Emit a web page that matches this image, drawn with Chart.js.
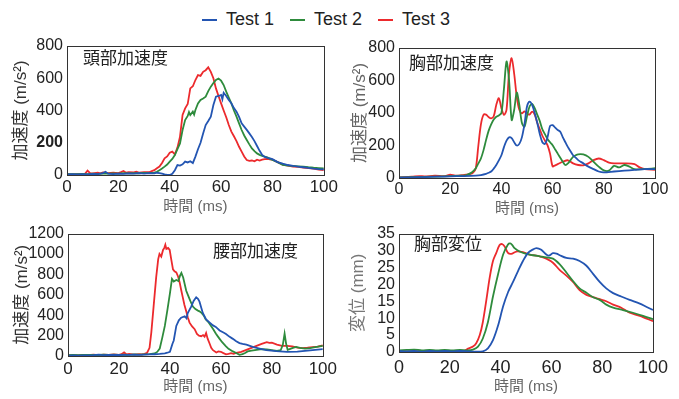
<!DOCTYPE html>
<html>
<head>
<meta charset="utf-8">
<script src="https://cdn.jsdelivr.net/npm/chart.js@4.4.1/dist/chart.umd.min.js"></script>
<style>
  body { margin: 0; background: #fff; width: 679px; height: 399px; overflow: hidden; position: relative;
         font-family: "Liberation Sans", Arial, sans-serif; }
  canvas { position: absolute; }
  #legend { position: absolute; top: 9px; left: 202px; display: flex; align-items: center; font-size: 18px; color: #222; }
  .item { display: flex; align-items: center; margin-right: 16px; }
  .sw { width: 15px; height: 2px; margin-right: 9px; display: inline-block; }
</style>
</head>
<body>
<div id="legend"></div>
<canvas id="c1" width="340" height="190" style="left:0;top:30px"></canvas>
<canvas id="c2" width="334" height="190" style="left:345px;top:30px"></canvas>
<canvas id="c3" width="340" height="179" style="left:0;top:220px"></canvas>
<canvas id="c4" width="334" height="179" style="left:345px;top:220px"></canvas>
<script>
// --- DONNEES ---
const seriesNames = ['Test 1', 'Test 2', 'Test 3'];
const seriesColors = ['#2355b2', '#2e8b3c', '#ec2a2d'];
const xTicks = [0, 20, 40, 60, 80, 100];

// 頭部加速度 (m/s2) : [temps ms, valeur]
const head1 = [[0,3],[2,5],[4,3],[6,6],[8,4],[10,7],[12,5],[14,12],[15,20],[16,8],[18,6],[20,9],[22,7],[24,10],[26,8],[28,11],[30,9],[32,12],[34,10],[35,14],[36,12],[37,8],[38,4],[39,1],[40,0],[41,8],[42,30],[43,62],[44,58],[45,66],[46,83],[47,78],[48,85],[49,74],[50,114],[51,160],[52,200],[53,258],[54,310],[55,335],[56,362],[57,434],[58,486],[59,490],[60,496],[60.5,470],[61,510],[62,490],[63,465],[64,445],[65,415],[66,393],[67,360],[68,320],[69,300],[70,280],[71,258],[72,235],[73,210],[74,180],[75,150],[76,124],[77,112],[78,106],[79,103],[80,98],[82,80],[84,70],[86,62],[88,56],[90,52],[92,48],[94,44],[96,40],[98,37],[100,35]];
const head2 = [[0,5],[2,6],[4,5],[6,7],[8,6],[10,8],[12,7],[14,9],[16,8],[18,10],[20,9],[22,11],[24,10],[26,12],[28,11],[30,13],[32,12],[34,15],[35,20],[36,30],[37,40],[38,52],[39,65],[40,83],[41,100],[42,124],[43,160],[44,196],[45,279],[46,341],[47,366],[47.5,390],[48,372],[49,393],[49.5,375],[50,403],[51,444],[52,465],[53,475],[54,486],[55,520],[56,548],[57,570],[58,589],[59,598],[60,585],[61,558],[62,517],[63,480],[64,444],[65,400],[66,362],[67,320],[68,279],[69,245],[70,217],[71,190],[72,165],[73,148],[74,134],[75,125],[76,118],[77,114],[78,110],[79,100],[80,93],[82,80],[84,62],[86,58],[88,56],[90,54],[92,52],[94,48],[96,45],[98,43],[100,41]];
const head3 = [[0,5],[2,4],[4,6],[6,5],[7,8],[8,27],[9,12],[10,10],[12,14],[13,10],[14,16],[16,12],[18,14],[20,12],[21,18],[22,25],[23,14],[24,18],[26,16],[27,20],[28,15],[30,18],[32,17],[33,24],[34,30],[35,42],[36,52],[37,75],[38,103],[39,115],[40,138],[41,145],[42,128],[43,170],[44,238],[45,372],[46,413],[47,440],[48,537],[49,550],[50,589],[51,620],[52,615],[53,640],[54,650],[55,668],[56,640],[57,600],[58,537],[59,490],[60,444],[61,400],[62,358],[63,310],[64,269],[65,240],[66,210],[67,175],[68,145],[69,115],[70,93],[71,88],[72,90],[73,85],[74,95],[75,90],[76,95],[77,98],[78,100],[79,97],[80,95],[82,80],[84,65],[86,58],[88,52],[90,50],[92,46],[94,42],[96,40],[98,34],[100,30]];

// 胸部加速度 (m/s2)
const chest1 = [[0,2],[5,4],[10,6],[15,8],[20,10],[25,12],[30,15],[32,18],[34,25],[35,32],[36,40],[37,58],[38,80],[39,108],[40,140],[41,190],[42,230],[43,250],[44,245],[45,220],[46,200],[47,210],[48,250],[49,330],[50,440],[51,470],[52,450],[53,400],[54,340],[55,270],[56,220],[57,210],[58,250],[59,320],[60,325],[61,310],[62,295],[63,285],[64,250],[65,220],[66,190],[67,165],[68,140],[69,125],[70,110],[72,90],[74,70],[76,55],[78,40],[80,35],[84,40],[88,45],[92,50],[96,55],[100,55]];
const chest2 = [[0,3],[5,5],[10,7],[15,9],[20,12],[24,14],[26,16],[27,22],[28,30],[29,42],[30,60],[31,90],[32,120],[33,170],[34,233],[35,290],[36,330],[37,360],[38,377],[39,385],[40,400],[41,550],[42,717],[43,600],[44,357],[45,420],[46,526],[47,450],[48,340],[49,315],[50,380],[51,440],[52,456],[53,430],[54,390],[55,350],[56,300],[57,270],[58,240],[59,220],[60,202],[61,175],[62,150],[63,125],[64,100],[65,80],[66,90],[67,110],[68,130],[69,140],[70,146],[72,145],[74,130],[76,100],[78,70],[80,47],[82,45],[84,75],[86,65],[88,80],[90,70],[92,55],[96,55],[100,60]];
const chest3 = [[0,4],[5,8],[8,12],[10,10],[14,14],[18,12],[20,20],[22,14],[25,18],[28,25],[29,35],[30,60],[31,200],[32,330],[33,388],[34,390],[35,375],[36,367],[37,380],[38,450],[39,491],[40,430],[41,388],[42,420],[43,650],[44,738],[45,640],[46,500],[47,420],[48,398],[49,410],[50,395],[51,390],[52,408],[53,390],[54,340],[55,300],[56,260],[57,230],[58,202],[59,150],[60,72],[61,78],[62,85],[64,100],[66,109],[68,90],[70,80],[72,78],[74,90],[76,110],[78,120],[80,110],[82,95],[84,90],[88,90],[92,85],[94,65],[96,55],[100,50]];

// 腰部加速度 (m/s2)
const waist1 = [[0,3],[2,5],[4,4],[6,6],[8,5],[10,8],[12,14],[13,10],[14,8],[16,10],[18,12],[20,10],[22,12],[24,11],[26,13],[28,12],[30,14],[32,15],[34,17],[36,20],[38,25],[39,32],[40,41],[41,120],[41.5,152],[42.5,295],[43.5,350],[44.4,375],[45.8,390],[46.5,370],[47,422],[48.4,486],[49.3,540],[50.3,575],[51,560],[51.6,533],[52.9,422],[54.2,359],[55.5,330],[56.9,300],[58,285],[59.5,250],[61,230],[62,216],[63.3,190],[64.7,168],[66,145],[67.3,127],[68.5,118],[70,111],[72.5,89],[75.2,73],[77.8,57],[81.7,48],[86,41],[90,43],[94,52],[97,60],[100,67]];
const waist2 = [[0,8],[2,10],[4,9],[6,11],[8,10],[10,12],[12,10],[14,13],[16,11],[18,14],[20,12],[22,14],[24,12],[26,15],[28,13],[30,16],[32,18],[34,25],[35,40],[36,73],[37,180],[38,295],[39,450],[40,613],[40.8,755],[41.5,730],[42.5,745],[43.3,735],[44,790],[44.5,815],[45.2,770],[46.4,640],[47.2,590],[48,540],[49,485],[50,460],[51,445],[51.6,438],[52.5,420],[53.3,395],[54,360],[55,335],[56,300],[57,263],[58,220],[59,185],[59.5,168],[60.5,135],[62,95],[63,70],[64.7,45],[66,30],[67.3,12],[68.5,18],[69.5,30],[70.5,45],[72,52],[74,60],[76,68],[78,65],[80,57],[82,50],[83.5,58],[84.3,110],[85,220],[85.6,120],[86.2,60],[87,68],[88,78],[89.5,90],[91,80],[93,72],[95,78],[97,86],[100,100]];
const waist3 = [[0,5],[2,8],[4,6],[6,10],[8,8],[10,12],[12,9],[14,14],[16,10],[18,16],[20,12],[21,18],[22,35],[23,15],[24,20],[26,14],[28,18],[29,15],[30,22],[31,30],[32,80],[32.7,232],[33.6,486],[34.6,771],[35.4,950],[35.9,1000],[36.6,975],[37.3,1040],[37.8,1060],[38.2,1090],[38.6,1050],[39.3,1060],[39.9,1040],[40.5,950],[41.2,850],[41.8,830],[42.5,820],[43.2,780],[43.8,724],[44.4,650],[45,580],[45.7,500],[46.4,438],[47,380],[47.7,327],[48.7,290],[49.7,263],[50.6,216],[51.4,200],[52.3,194],[53,205],[53.6,190],[54.2,225],[54.8,170],[55.6,120],[56.2,80],[56.9,57],[58.2,35],[59,45],[60,41],[61,28],[62,16],[63,20],[64,28],[65,22],[66,30],[68,40],[70,60],[72,80],[74,100],[76,118],[78,135],[79,128],[80,130],[82,112],[84,100],[86,100],[88,95],[90,82],[92,78],[94,82],[96,88],[98,92],[100,105]];

// 胸部変位 (mm)
const disp1 = [[0,0.3],[3,0.2],[6,0.3],[9,0.1],[12,0.3],[15,0.2],[18,0.3],[21,0.2],[24,0.3],[27,0.2],[30,0.1],[33,0.2],[35,1.1],[37,3.5],[39,7.8],[41,13.5],[43,17.8],[44.9,20.7],[46.9,24],[48.8,26.9],[50.8,29.3],[52.5,30.2],[54.1,30.7],[56,30.2],[58,28.8],[59,28.5],[60.6,29.2],[62,29.1],[63.3,28.6],[65.9,27.8],[68.5,27.6],[71.1,26.9],[73.8,25.5],[76.4,23.1],[79,20.7],[81.6,18.8],[84.3,17.4],[87.5,16.4],[90.8,15.4],[94.8,14.3],[97.5,13.3],[100,12.4]];
const disp2 = [[0,0.5],[3,0.6],[6,0.7],[9,0.5],[12,0.6],[15,0.5],[18,0.6],[21,0.5],[24,0.6],[27,0.5],[29.1,0.7],[31.1,1.6],[33,4],[35,8.8],[37,16.4],[39,23],[41,28.8],[42.9,31.8],[43.8,32.1],[44.6,31.6],[45.5,30.7],[47.5,29.7],[50.1,29],[52.8,28.6],[55.4,28.3],[58,28],[60.6,27.6],[63.3,25.9],[65.9,23.5],[68.5,21],[71.1,18.8],[73.8,17.5],[76.4,16.2],[79,15.4],[81.6,14],[84.3,13.1],[88.2,12.4],[92.1,11.6],[96.1,10.7],[100,9.7]];
const disp3 = [[0,0.2],[5,0.2],[10,0.3],[15,0.2],[20,0.2],[25.2,0.2],[27.2,1],[29.1,1.6],[30.4,2.6],[31.8,5],[33,8.8],[34.4,15.4],[35.7,22],[37,26.9],[38.3,29.3],[39.6,31.6],[40.6,31.9],[41.6,31.2],[42.9,29.3],[44.2,29],[46.2,29.7],[48.8,29.5],[51.4,28.8],[55.4,28.3],[58,27.6],[60.6,26.4],[63.3,24.2],[65.9,22.6],[68.5,20.7],[71.1,18.3],[73.8,16.9],[76.4,16.2],[79,15.6],[81.6,15],[84.3,14],[87.5,13.1],[90.8,11.6],[94.8,10.7],[100,9.1]];

// --- LEGENDE ---
const lg = document.getElementById('legend');
seriesNames.forEach((n, i) => {
  lg.innerHTML += `<span class="item"><span class="sw" style="background:${seriesColors[i]}"></span><span>${n}</span></span>`;
});

Chart.defaults.font.family = '"Liberation Sans", "Noto Sans CJK JP", sans-serif';

// cadre + titre dans la zone du graphe
const panelPlugin = {
  id: 'panel',
  afterDatasetsDraw(chart, args, opts) {
    const a = chart.chartArea, ctx = chart.ctx;
    ctx.save();
    ctx.strokeStyle = '#333'; ctx.lineWidth = 1;
    ctx.strokeRect(Math.round(a.left) + 0.5, Math.round(a.top) + 0.5, Math.round(a.right - a.left), Math.round(a.bottom - a.top));
    ctx.fillStyle = '#222';
    ctx.font = '17px "Noto Sans CJK JP"';
    ctx.textBaseline = 'middle';
    ctx.fillText(opts.text, a.left + opts.dx, a.top + opts.dy);
    ctx.restore();
  }
};

function makePanel(id, c) {
  new Chart(document.getElementById(id), {
    type: 'line',
    data: {
      datasets: c.series.map((s, i) => ({
        label: seriesNames[i],
        data: s.map(p => ({ x: p[0], y: p[1] })),
        borderColor: seriesColors[i], borderWidth: 1.8, pointRadius: 0,
        tension: c.tension, fill: false
      }))
    },
    options: {
      responsive: false, animation: false,
      layout: { padding: { top: c.padTop, right: c.padRight, left: 0, bottom: 0 } },
      plugins: { legend: { display: false }, tooltip: { enabled: false }, panel: { text: c.title, dx: c.tx, dy: c.ty } },
      scales: {
        x: {
          type: 'linear', min: 0, max: 100,
          afterBuildTicks: s => { s.ticks = xTicks.map(v => ({ value: v })); },
          ticks: { padding: c.xPad, color: '#222', font: { size: c.xFont }, callback: v => String(v) },
          grid: { display: false, drawTicks: false }, border: { display: false },
          title: { display: true, text: '時間 (ms)', color: '#666', font: { size: 15 }, padding: { top: 0, bottom: c.xtPad } },
          afterFit: s => { s.height = c.xH; }
        },
        y: {
          min: 0, max: c.yMax,
          afterBuildTicks: s => { s.ticks = c.yTicks.map(v => ({ value: v })); },
          ticks: { padding: c.yPad, color: '#222', autoSkip: false, font: c.yFontFn || { size: c.yFont }, callback: v => String(v) },
          grid: { display: false, drawTicks: false }, border: { display: false },
          title: { display: true, text: c.yTitle, color: c.ytColor, font: { size: 17 }, padding: { top: c.ytPad, bottom: 0 } },
          afterFit: s => { s.width = c.yW; }
        }
      }
    },
    plugins: [panelPlugin]
  });
}

makePanel('c1', {
  series: [head1, head2, head3], tension: 0, title: '頭部加速度', tx: 16, ty: 12,
  padTop: 16, padRight: 15, xH: 45, yW: 67, xPad: 2, xFont: 17, xtPad: 4,
  yMax: 800, yTicks: [0, 200, 400, 600, 800], yPad: 4,
  yFontFn: ctx => ({ size: 16, weight: ctx.tick && ctx.tick.value === 200 ? 'bold' : 'normal' }),
  yTitle: '加速度 (m/s²)', ytColor: '#333', ytPad: 11
});
makePanel('c2', {
  series: [chest1, chest2, chest3], tension: 0.3, title: '胸部加速度', tx: 10, ty: 15,
  padTop: 18, padRight: 24, xH: 42, yW: 54, xPad: 2, xFont: 16, xtPad: 2,
  yMax: 800, yTicks: [0, 200, 400, 600, 800], yPad: 4, yFont: 16,
  yTitle: '加速度 (m/s²)', ytColor: '#666', ytPad: 5
});
makePanel('c3', {
  series: [waist1, waist2, waist3], tension: 0, title: '腰部加速度', tx: 145, ty: 17,
  padTop: 10, padRight: 17, xH: 43, yW: 68, xPad: 3, xFont: 17, xtPad: 3,
  yMax: 1200, yTicks: [0, 200, 400, 600, 800, 1000, 1200], yPad: 4, yFont: 16,
  yTitle: '加速度 (m/s²)', ytColor: '#333', ytPad: 12
});
makePanel('c4', {
  series: [disp1, disp2, disp3], tension: 0.3, title: '胸部変位', tx: 15, ty: 10,
  padTop: 10, padRight: 26, xH: 47, yW: 54, xPad: 5, xFont: 18, xtPad: 3,
  yMax: 35, yTicks: [0, 5, 10, 15, 20, 25, 30, 35], yPad: 4, yFont: 16,
  yTitle: '変位 (mm)', ytColor: '#777', ytPad: 3
});
</script>
</body>
</html>
